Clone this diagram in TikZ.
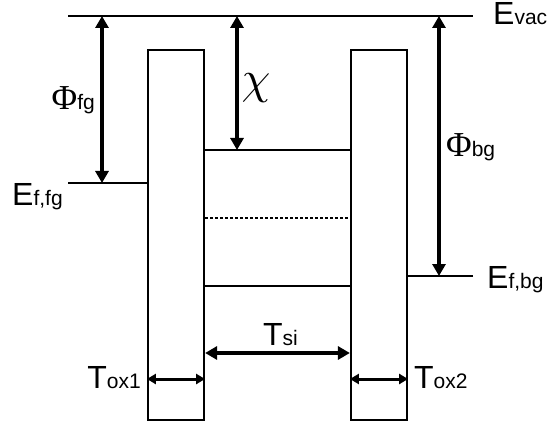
\documentclass[tikz,border=0pt]{standalone}
\usepackage{fontspec}
\setmainfont{Liberation Sans}
\newfontfamily\greekfont{Liberation Serif}
\usetikzlibrary{arrows.meta,positioning}
\newcommand{\bigsz}{\fontsize{32}{32}\selectfont}
\newcommand{\subsz}{\fontsize{21}{21}\selectfont}
\newcommand{\bandlabel}[2]{{\bigsz #1}{\subsz #2}}
\newcommand{\philabel}[1]{{\greekfont\fontsize{35}{35}\selectfont Φ}{\subsz #1}}
\tikzset{
  oxide/.style={draw, line width=2.2pt, minimum width=56pt, minimum height=370pt, inner sep=0pt},
  level/.style={line width=2.2pt},
  midgap/.style={line width=2.2pt, dash pattern=on 3pt off 2pt},
  line/.style={{Triangle[length=12pt,width=13pt]}-{Triangle[length=12pt,width=13pt]}, line width=3.4pt},
  thin line/.style={{Triangle[length=9pt,width=10pt]}-{Triangle[length=9pt,width=10pt]}, line width=3pt},
  lbl/.style={inner sep=0pt, anchor=base west}
}
\begin{document}
\begin{tikzpicture}[x=1pt, y=-1pt]
  \useasboundingbox (0,0) rectangle (550,428);
  % oxide layers
  \node[oxide] (ox1) at (176,235) {};
  \node[oxide] (ox2) at (379,235) {};
  % energy levels
  \coordinate (vacl) at (68,16);
  \coordinate (vacr) at (473,16);
  \coordinate (effg) at (68,183);
  \coordinate (efbg) at (473,276);
  \coordinate (ec) at (0,150);
  \coordinate (ei) at (0,218);
  \coordinate (ev) at (0,286);
  \draw[level] (vacl) -- (vacr);
  \draw[level] (effg) -- (effg -| ox1.west);
  \draw[level] (efbg) -- (efbg -| ox2.east);
  \draw[level] (ec -| ox1.east) -- (ec -| ox2.west);
  \draw[midgap] (ei -| ox1.east) -- (ei -| ox2.west);
  \draw[level] (ev -| ox1.east) -- (ev -| ox2.west);
  % dimension arrows
  \coordinate (phifg) at (102,0);
  \coordinate (chi) at (237,0);
  \coordinate (phibg) at (439,0);
  \coordinate (tsi) at (0,353);
  \coordinate (tox) at (0,379);
  \draw[line] (phifg |- vacl) -- (phifg |- effg);
  \draw[line] (chi |- vacl) -- (chi |- ec);
  \draw[line] (phibg |- vacl) -- (phibg |- efbg);
  \draw[line] (tsi -| ox1.east) -- (tsi -| ox2.west);
  \draw[thin line] (tox -| ox1.west) -- (tox -| ox1.east);
  \draw[thin line] (tox -| ox2.west) -- (tox -| ox2.east);
  % labels
  \node[lbl] (evac) at (493,25) {\bandlabel{E}{vac}};
  \node[lbl] (effglab) at (12,205) {\bandlabel{E}{f,fg}};
  \node[lbl] (efbglab) at (487,288) {\bandlabel{E}{f,bg}};
  \node[lbl, anchor=base east] (phifglab) at (95,110) {\philabel{fg}};
  \node[lbl] (phibglab) at (446,157) {\philabel{bg}};
  \node[inner sep=0pt, scale=4.6] (chilab) at (256,88) {$\chi$};
  \node[lbl] (tsilab) at (263,345) {\bandlabel{T}{si}};
  \node[lbl, anchor=base east] (tox1lab) at (141,388) {\bandlabel{T}{ox1}};
  \node[lbl] (tox2lab) at (414,388) {\bandlabel{T}{ox2}};
\end{tikzpicture}
\end{document}
